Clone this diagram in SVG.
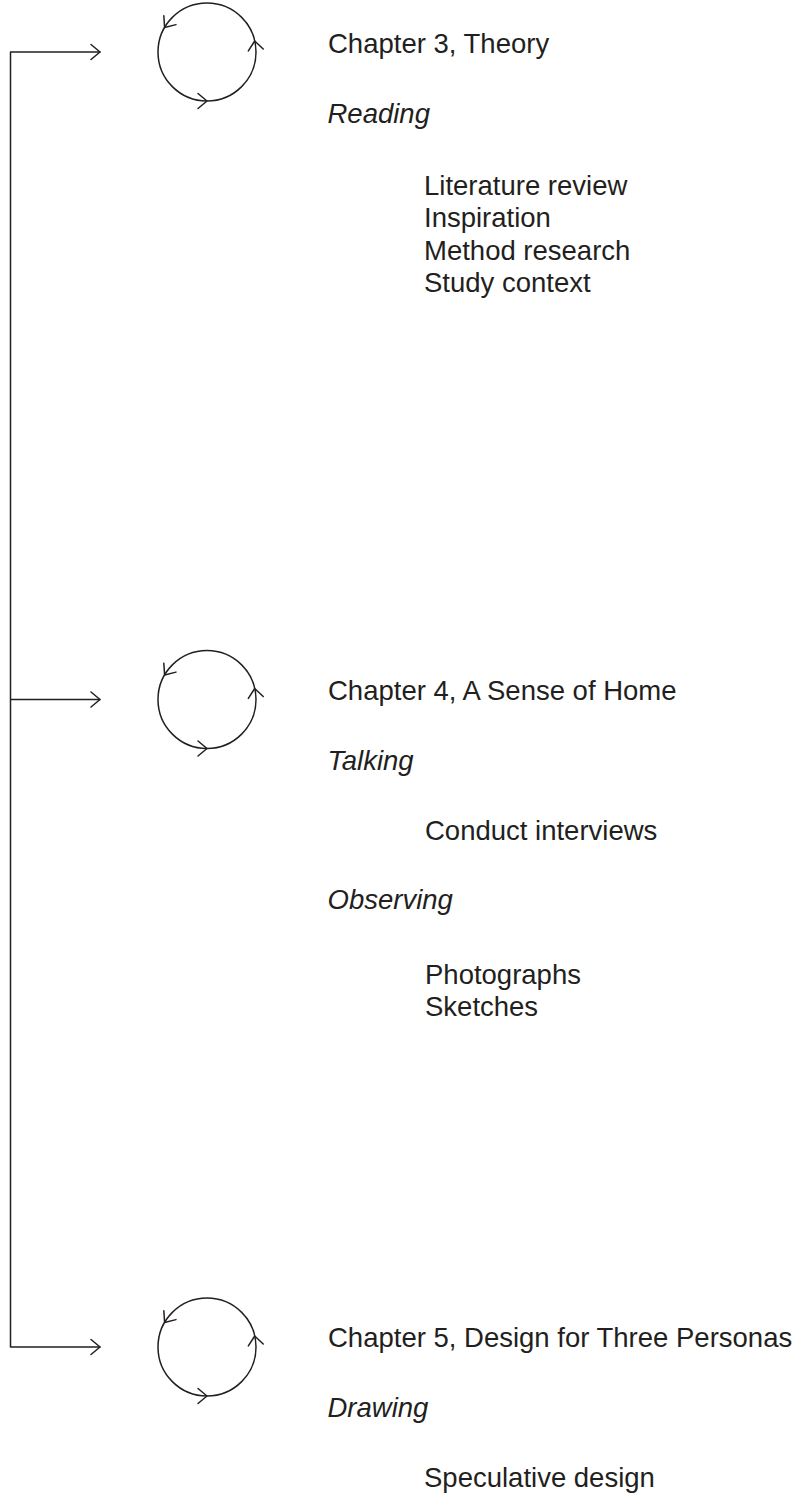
<svg xmlns="http://www.w3.org/2000/svg" xmlns:xlink="http://www.w3.org/1999/xlink" width="803" height="1507" viewBox="0 0 803 1507">
<style>
.ln{fill:none;stroke:#231f20;stroke-width:1.5;stroke-linecap:round;stroke-linejoin:round}
.t{font-family:"Liberation Sans",Arial,sans-serif;font-size:27.5px;fill:#231f20}
.i{font-style:italic}
</style>
<defs>
<path id="chev" class="ln" d="M -9 -7.5 L 0 0 L -9 7.5"/>
<g id="cyc">
<circle class="ln" cx="0" cy="0" r="49"/>
<use xlink:href="#chev" transform="translate(0,49) rotate(0)"/>
<use xlink:href="#chev" transform="translate(47.7,-11) rotate(-97)"/>
<use xlink:href="#chev" transform="translate(-42.4,-24.5) rotate(126)"/>
</g>
</defs>
<rect width="803" height="1507" fill="#ffffff"/>
<g id="connectors">
<path class="ln" d="M 100 52 L 10.5 52 L 10.5 1347 L 100 1347 M 10.5 699.5 L 100 699.5"/>
<use xlink:href="#chev" transform="translate(100,52)"/>
<use xlink:href="#chev" transform="translate(100,699.5)"/>
<use xlink:href="#chev" transform="translate(100,1347)"/>
</g>
<g id="chapter3">
<use xlink:href="#cyc" transform="translate(207,52)"/>
<text class="t" x="328" y="52.5">Chapter 3, Theory</text>
<text class="t i" x="327.5" y="122.7">Reading</text>
<text class="t" x="424" y="194.5">Literature review</text>
<text class="t" x="424" y="227">Inspiration</text>
<text class="t" x="424" y="259.5">Method research</text>
<text class="t" x="424" y="292">Study context</text>
</g>
<g id="chapter4">
<use xlink:href="#cyc" transform="translate(207,699.5)"/>
<text class="t" x="328" y="700">Chapter 4, A Sense of Home</text>
<text class="t i" x="327.5" y="770">Talking</text>
<text class="t" x="425" y="840">Conduct interviews</text>
<text class="t i" x="327.5" y="908.5">Observing</text>
<text class="t" x="425" y="983.5">Photographs</text>
<text class="t" x="425" y="1016">Sketches</text>
</g>
<g id="chapter5">
<use xlink:href="#cyc" transform="translate(207,1347)"/>
<text class="t" x="328" y="1346.5">Chapter 5, Design for Three Personas</text>
<text class="t i" x="327.5" y="1416.7">Drawing</text>
<text class="t" x="424" y="1486.7">Speculative design</text>
</g>
</svg>
